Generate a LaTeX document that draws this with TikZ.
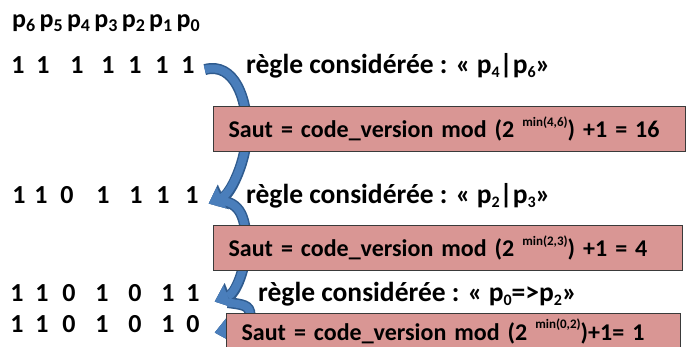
\documentclass[tikz,border=0pt]{standalone}
\usepackage{fontspec}
\setmainfont{Carlito}
\usetikzlibrary{arrows.meta}
\definecolor{boxfill}{HTML}{D99694}
\definecolor{boxline}{HTML}{3A3A3A}
\definecolor{arrfill}{HTML}{4A7EBB}
\definecolor{arrline}{HTML}{2F5B8E}
\newcommand\hsub[1]{\raisebox{-0.3ex}{\fontsize{18}{18}\selectfont #1}}
\newcommand\rsub[1]{\raisebox{-0.3ex}{\fontsize{16}{16}\selectfont #1}}
\newcommand\tsup[1]{\raisebox{1.0ex}{\fontsize{13}{13}\selectfont #1}}
\begin{document}
\begin{tikzpicture}[x=1pt,y=-1pt,
  font=\fontsize{24}{28}\selectfont\bfseries,
  big/.style={font=\fontsize{26}{30}\selectfont\bfseries},
  digit/.style={big, inner sep=0pt, anchor=base},
  txt/.style={big, inner sep=0pt, anchor=base west},
  rulet/.style={font=\fontsize{27.5}{31}\selectfont\bfseries, inner sep=0pt, anchor=base west},
  box/.style={draw=boxline, line width=1.2pt, fill=boxfill, anchor=north west,
    inner xsep=15pt, inner ysep=0pt, minimum height=45pt, text width=#1, align=left},
  bandout/.style={draw=arrline, line width=11pt,
    -{Triangle[width=27pt,length=16pt,line width=0.1pt]}},
  bandin/.style={draw=arrfill, line width=8pt,
    -{Triangle[width=23pt,length=14pt,line width=0.1pt]}}]
\useasboundingbox (0,0) rectangle (686,347);
\clip (0,0) rectangle (686,347);
% header
\node[txt] (hdr) at (12,28) {p\hsub{6}\,p\hsub{5}\,p\hsub{4}\,p\hsub{3}\,p\hsub{2}\,p\hsub{1}\,p\hsub{0}};
% rows of digits
\foreach \x/\d [count=\i] in {18/1,43/1,77/1,108/1,135/1,162/1,188/1}
  \node[digit] (a\i) at (\x,74) {\d};
\foreach \x/\d [count=\i] in {19/1,41/1,67/0,103/1,136/1,163/1,192/1}
  \node[digit] (b\i) at (\x,204) {\d};
\foreach \x/\d [count=\i] in {17/1,42/1,69/0,102/1,135/0,168/1,193/1}
  \node[digit] (c\i) at (\x,302) {\d};
\foreach \x/\d [count=\i] in {17/1,42/1,69/0,102/1,135/0,168/1,193/0}
  \node[digit] (e\i) at (\x,333) {\d};
% rules
\node[rulet] (rule1) at (246,74) {règle considérée : « p\rsub{4}|p\rsub{6}»};
\node[rulet] (rule2) at (246,204) {règle considérée : « p\rsub{2}|p\rsub{3}»};
\node[rulet] (rule3) at (258,302) {règle considérée : « p\rsub{0}=>p\rsub{2}»};
% arrows
\coordinate (t1) at ([xshift=10pt,yshift=-4pt]a7.east);
\coordinate (h1) at ([xshift=10pt,yshift=-8pt]b7.east);
\coordinate (t2) at ([xshift=18pt,yshift=-5pt]b7.east);
\coordinate (h2) at ([xshift=15pt,yshift=-8pt]c7.east);
\coordinate (t3) at ([xshift=28pt,yshift=-9pt]c7.east);
\coordinate (h3) at ([xshift=15pt,yshift=-8pt]e7.east);
\foreach \s in {bandout,bandin}{
  \draw[\s] (t1) .. controls +(30,-8) and +(0,-30) .. (247,130) .. controls +(0,30) and +(22,-10) .. (h1);
  \draw[\s] (t2) .. controls +(25,0) and +(0,-25) .. (246,245) .. controls +(0,25) and +(20,-8) .. (h2);
  \draw[\s] (t3) .. controls +(15,2) and +(0,-10) .. (250,315) .. controls +(0,8) and +(15,-3) .. (h3);
}
% boxes
\node[box=442pt] (s1) at (213,106) {Saut = code\_version mod (2 \tsup{min(4,6)}) +1 = 16};
\node[box=439pt] (s2) at (213,225) {Saut = code\_version mod (2 \tsup{min(2,3)}) +1 = 4};
\node[box=424pt, minimum height=36pt] (s3) at (226,313) {Saut = code\_version mod (2 \tsup{min(0,2)})+1= 1};
\end{tikzpicture}
\end{document}
